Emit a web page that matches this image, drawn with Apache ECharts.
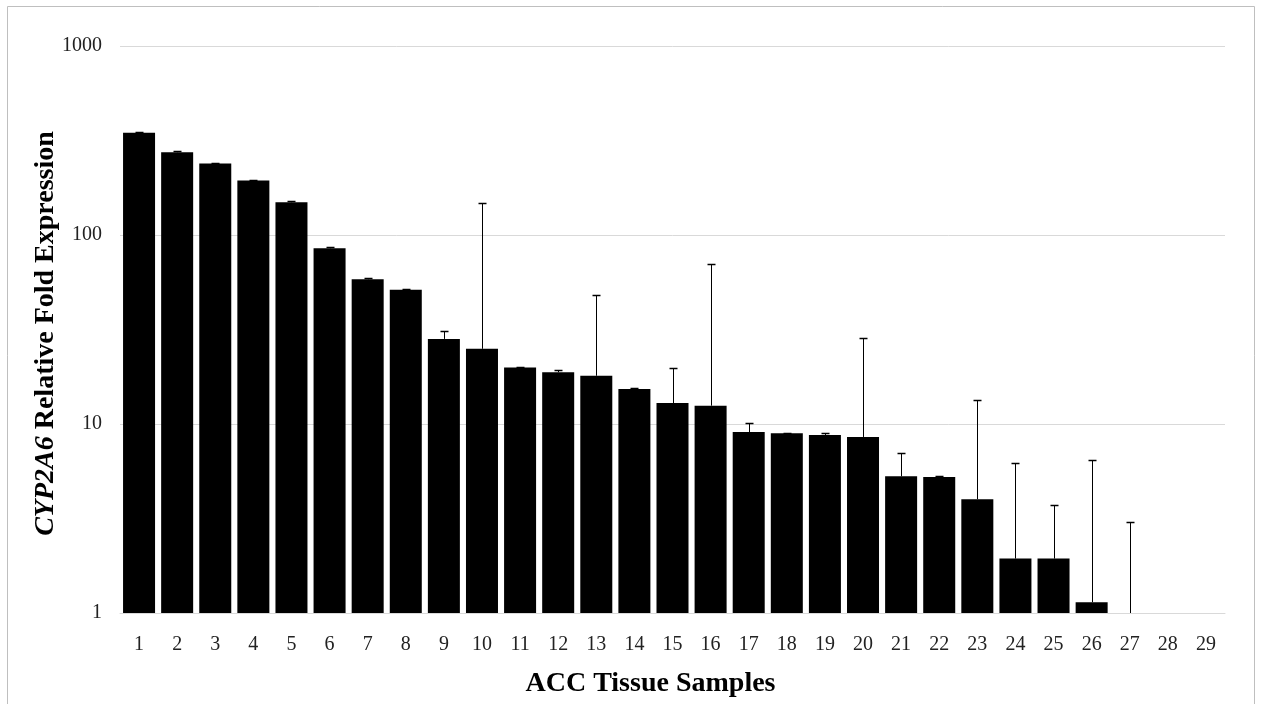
<!DOCTYPE html>
<html><head><meta charset="utf-8">
<script src="https://cdn.jsdelivr.net/npm/echarts@6/dist/echarts.min.js"></script>
<style>html,body{margin:0;padding:0;background:#fff}#c{width:1263px;height:704px}</style>
</head><body><div id="c"></div>
<script>
var categories = ['1','2','3','4','5','6','7','8','9','10','11','12','13','14','15','16','17','18','19','20','21','22','23','24','25','26','27','28','29'];
var values = [348, 274, 239, 194, 149, 85, 58.3, 51.4, 28.2, 25.0, 19.9, 18.8, 18.0, 15.3, 12.9, 12.5, 9.07, 8.93, 8.75, 8.54, 5.29, 5.24, 4.0, 1.94, 1.94, 1.14, 1, null, null];
var errors = [3, 3, 2, 2, 1.5, 1.2, 0.6, 0.6, 2.8, 123, 0.2, 0.4, 30.1, 0.15, 6.8, 58, 1.0, 0.05, 0.2, 20, 1.76, 0.05, 9.4, 4.28, 1.79, 5.29, 2.04, null, null];
var yTicks = [1, 10, 100, 1000];

var chart = echarts.init(document.getElementById('c'));
var errData = categories.map(function (c, i) {
  return [i, values[i], errors[i]];
}).filter(function (d) { return d[1] != null && d[2] != null; });

chart.setOption({
  animation: false,
  backgroundColor: '#fff',
  textStyle: { fontFamily: 'Liberation Serif' },
  graphic: [{
    type: 'rect', shape: { x: 7.5, y: 6.5, width: 1247, height: 720 },
    style: { fill: 'none', stroke: '#bfbfbf', lineWidth: 1 }, silent: true, z: -1
  }],
  grid: { left: 120, right: 38, top: 46, bottom: 91 },
  xAxis: {
    type: 'category', data: categories,
    axisLine: { show: true, lineStyle: { color: '#d9d9d9', width: 1 } },
    axisTick: { show: false },
    axisLabel: { color: '#222', fontSize: 20, fontFamily: 'Liberation Serif', margin: 22 },
    name: 'ACC Tissue Samples', nameLocation: 'middle', nameGap: 57,
    nameTextStyle: { color: '#000', fontSize: 28, fontWeight: 'bold', fontFamily: 'Liberation Serif', padding: [0, 44, 0, 0] }
  },
  yAxis: {
    type: 'log', logBase: 10, min: 1, max: 1000,
    axisLine: { show: false }, axisTick: { show: false },
    splitLine: { lineStyle: { color: '#d9d9d9', width: 1 } },
    axisLabel: { color: '#222', fontSize: 20, fontFamily: 'Liberation Serif', margin: 18,
      formatter: function (v) { return yTicks.indexOf(Math.round(v)) >= 0 ? String(Math.round(v)) : ''; } },
    name: '{i|CYP2A6} Relative Fold Expression', nameLocation: 'middle', nameGap: 60, nameMoveOverlap: false,
    nameTextStyle: { color: '#000', fontSize: 28, fontWeight: 'bold', fontFamily: 'Liberation Serif', padding: [0, 8, 0, 0],
      rich: { i: { fontStyle: 'italic', fontWeight: 'bold', fontSize: 28, fontFamily: 'Liberation Serif', color: '#000' } } }
  },
  series: [{
    type: 'bar', data: values, barCategoryGap: '16%',
    itemStyle: { color: '#000' }, z: 2
  }, {
    type: 'custom', data: errData, z: 3,
    renderItem: function (params, api) {
      var idx = api.value(0);
      var base = Math.max(api.value(1), 1);
      var top = api.value(1) + api.value(2);
      var p0 = api.coord([idx, base]);
      var p1 = api.coord([idx, top]);
      var x = Math.round(p0[0]) + 0.5;
      var y1 = Math.round(p1[1]) + 0.5;
      var half = 4;
      return {
        type: 'group',
        children: [
          { type: 'line', shape: { x1: x, y1: p0[1], x2: x, y2: y1 }, style: { stroke: '#000', lineWidth: 1 } },
          { type: 'line', shape: { x1: x - half, y1: y1, x2: x + half, y2: y1 }, style: { stroke: '#000', lineWidth: 1.5 } }
        ]
      };
    }
  }]
});
</script>
</body></html>
